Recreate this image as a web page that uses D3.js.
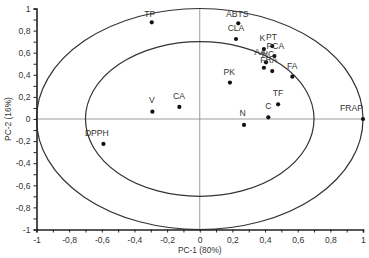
<!DOCTYPE html>
<html><head><meta charset="utf-8">
<script src="https://cdn.jsdelivr.net/npm/d3@7"></script>
<style>
html,body{margin:0;padding:0;background:#fff;}
svg{display:block;font-family:"Liberation Sans",Arial,sans-serif;}
</style></head>
<body><svg id="c" width="369" height="258"></svg>
<script>
const labels = ["TP","ABTS","CLA","PK","V","CA","N","DPPH","FRAP","TF","C","FA","K","PT","PCA","AA","HC","FRA"];
const pc1 = [-0.294,0.236,0.222,0.185,-0.29,-0.125,0.271,-0.59,1.0,0.48,0.42,0.567,0.393,0.444,0.457,0.406,0.393,0.444];
const pc2 = [0.875,0.866,0.724,0.33,0.066,0.109,-0.054,-0.226,0.0,0.133,0.015,0.383,0.633,0.66,0.57,0.513,0.464,0.434];
const circleRadii = [1, 0.7];
const xTicks = [-1,-0.8,-0.6,-0.4,-0.2,0,0.2,0.4,0.6,0.8,1];
const yTicks = [-1,-0.8,-0.6,-0.4,-0.2,0,0.2,0.4,0.6,0.8,1];
const xTitle = "PC-1 (80%)";
const yTitle = "PC-2 (16%)";

// label layout offsets (px from point to label centre)
const labelOffsets = {
  TP:[-2,-9], ABTS:[-1,-10], CLA:[0,-10.7], PK:[-0.7,-11], V:[-0.6,-11.7], CA:[-0.3,-11.3],
  N:[-1.3,-11.7], DPPH:[-6.6,-10.7], FRAP:[-11.6,-11.6], TF:[0,-11.6], C:[0,-11.3], FA:[0,-11],
  K:[-1.5,-11], PT:[-0.8,-9.5], PCA:[1,-10], AA:[-6,-10.3], HC:[4,-13.7], FRA:[-3.3,-11]
};

const svg = d3.select("#c");
const x = d3.scaleLinear().domain([-1,1]).range([36.5,363]);
const y = d3.scaleLinear().domain([-1,1]).range([229.5,8.5]);
const tickFmt = d => d===0 ? "0" : (Math.abs(d)===1 ? String(d) : String(d).replace(".",","));
const FS = "8.6px";

// crosshair
svg.append("line").attr("x1",x(-1)).attr("x2",x(1)).attr("y1",y(0)).attr("y2",y(0))
  .attr("stroke","#9a9a9a").attr("stroke-width",1);
svg.append("line").attr("x1",x(0)).attr("x2",x(0)).attr("y1",y(-1)).attr("y2",y(1))
  .attr("stroke","#9a9a9a").attr("stroke-width",1);

// circles
svg.selectAll("ellipse.r").data(circleRadii).enter().append("ellipse")
  .attr("cx",x(0)).attr("cy",y(0))
  .attr("rx",d=>x(d)-x(0)).attr("ry",d=>y(0)-y(d))
  .attr("fill","none").attr("stroke","#333").attr("stroke-width",1.2);

// axes
const minor = d3.range(-1,1.0001,0.1).map(v=>+v.toFixed(1));
const xAxis = d3.axisBottom(x).tickValues(minor).tickSize(3)
  .tickFormat(d => xTicks.some(t=>Math.abs(t-d)<1e-9) ? tickFmt(d) : "");
const yAxis = d3.axisLeft(y).tickValues(minor).tickSize(3)
  .tickFormat(d => yTicks.some(t=>Math.abs(t-d)<1e-9) ? tickFmt(d) : "");
const gx = svg.append("g").attr("transform",`translate(0,${y(-1)})`).call(xAxis);
const gy = svg.append("g").attr("transform",`translate(${x(-1)},0)`).call(yAxis);
[gx,gy].forEach(g=>{
  g.select(".domain").attr("stroke","#222").attr("stroke-width",1.6);
  g.selectAll(".tick line").attr("stroke","#222");
  g.selectAll(".tick text").attr("fill","#333").attr("font-size",FS)
   .attr("font-family","Liberation Sans, Arial, sans-serif");
});
gx.selectAll(".tick text").attr("dy","0.9em").attr("y",5.5);
gy.selectAll(".tick text").attr("x",-6);

// titles
svg.append("text").attr("x",x(0)).attr("y",253).attr("text-anchor","middle")
  .attr("font-size","8.4px").attr("fill","#333").text(xTitle);
svg.append("text").attr("transform",`translate(11,${y(0)}) rotate(-90)`).attr("text-anchor","middle")
  .attr("font-size","8.4px").attr("fill","#333").text(yTitle);

// points
const data = labels.map((l,i)=>({l, a:pc1[i], b:pc2[i]}));
svg.selectAll("circle.pt").data(data).enter().append("circle")
  .attr("cx",d=>x(d.a)).attr("cy",d=>y(d.b)).attr("r",2.1).attr("fill","#111");
svg.selectAll("text.lab").data(data).enter().append("text")
  .attr("x",d=>x(d.a)+labelOffsets[d.l][0])
  .attr("y",d=>y(d.b)+labelOffsets[d.l][1]+3.2)
  .attr("text-anchor","middle").attr("font-size",FS).attr("fill","#333")
  .text(d=>d.l);
</script></body></html>
